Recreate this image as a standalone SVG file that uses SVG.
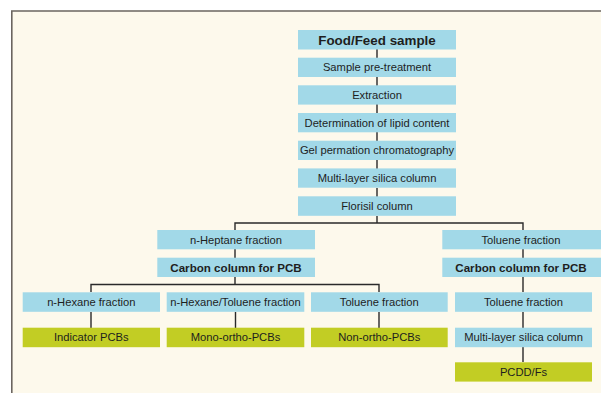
<svg xmlns="http://www.w3.org/2000/svg" width="601" height="393" viewBox="0 0 601 393">
<style>
.b{fill:#a2d9e8}
.g{fill:#c2cd24}
text{font-family:"Liberation Sans",Arial,sans-serif;font-size:11.2px;fill:#1e1e1e;text-anchor:middle}
.t{font-weight:bold;font-size:13.4px}
.k{font-weight:bold;font-size:11.6px}
#connectors path{fill:none;stroke:#2a2a2a;stroke-width:1.4}
</style>
<rect x="0" y="0" width="601" height="393" fill="#ffffff"/>
<rect x="11.5" y="10.5" width="590" height="383" fill="#fdf9ec"/>
<path d="M11.8 393 V11 H601" fill="none" stroke="#6b6560" stroke-width="1.6"/>
<g id="connectors">
<path d="M377 49 V58 M377 77 V86 M377 104 V114 M377 132 V142 M377 160 V170 M377 188 V197"/>
<path d="M377 216 V223 M235 230 V223 H523 V230"/>
<path d="M235 249 V258 M523 249 V258"/>
<path d="M235 277 V284.5 M91 292 V284.5 H379 V292"/>
<path d="M523 277 V292"/>
<path d="M91 312 V328 M235.5 312 V328 M379 312 V328 M523 312 V328 M523 347 V362"/>
</g>
<g id="n1"><rect class="b" x="298" y="30" width="158" height="19.5"/><text class="t" x="377" y="44.6">Food/Feed sample</text></g>
<g id="n2"><rect class="b" x="298" y="57.7" width="158" height="19.3"/><text x="377" y="71.3">Sample pre-treatment</text></g>
<g id="n3"><rect class="b" x="298" y="85.3" width="158" height="19.3"/><text x="377" y="98.9">Extraction</text></g>
<g id="n4"><rect class="b" x="298" y="113" width="158" height="19.3"/><text x="377" y="126.6">Determination of lipid content</text></g>
<g id="n5"><rect class="b" x="298" y="140.7" width="158" height="19.3"/><text x="377" y="154.3">Gel permation chromatography</text></g>
<g id="n6"><rect class="b" x="298" y="168.4" width="158" height="19.3"/><text x="377" y="182">Multi-layer silica column</text></g>
<g id="n7"><rect class="b" x="298" y="196.3" width="158" height="19.5"/><text x="377" y="209.9">Florisil column</text></g>
<g id="n8"><rect class="b" x="157.3" y="230" width="157.7" height="19.3"/><text x="236" y="243.6">n-Heptane fraction</text></g>
<g id="n9"><rect class="b" x="157.3" y="257.7" width="157.7" height="19.3"/><text class="k" x="236" y="271.5">Carbon column for PCB</text></g>
<g id="n10"><rect class="b" x="442.3" y="230" width="158.7" height="19.3"/><text x="521" y="243.6">Toluene fraction</text></g>
<g id="n11"><rect class="b" x="442.3" y="257.7" width="158.7" height="19.3"/><text class="k" x="521" y="271.5">Carbon column for PCB</text></g>
<g id="n12"><rect class="b" x="22.7" y="292.3" width="137.3" height="19.5"/><text x="91.3" y="305.9">n-Hexane fraction</text></g>
<g id="n13"><rect class="b" x="166.7" y="292.3" width="137.6" height="19.5"/><text x="235.5" y="305.9">n-Hexane/Toluene fraction</text></g>
<g id="n14"><rect class="b" x="311" y="292.3" width="136.7" height="19.5"/><text x="379.3" y="305.9">Toluene fraction</text></g>
<g id="n15"><rect class="b" x="455" y="292.3" width="137" height="19.5"/><text x="523.5" y="305.9">Toluene fraction</text></g>
<g id="n16"><rect class="g" x="22.7" y="327.7" width="137.3" height="19.5"/><text x="91.3" y="341.3">Indicator PCBs</text></g>
<g id="n17"><rect class="g" x="166.7" y="327.7" width="137.6" height="19.5"/><text x="235.5" y="341.3">Mono-ortho-PCBs</text></g>
<g id="n18"><rect class="g" x="311" y="327.7" width="136.7" height="19.5"/><text x="379.3" y="341.3">Non-ortho-PCBs</text></g>
<g id="n19"><rect class="b" x="455" y="327.7" width="137" height="19.5"/><text x="523.5" y="341.3">Multi-layer silica column</text></g>
<g id="n20"><rect class="g" x="455" y="362.3" width="137" height="19.3"/><text x="523.5" y="375.9">PCDD/Fs</text></g>
</svg>
